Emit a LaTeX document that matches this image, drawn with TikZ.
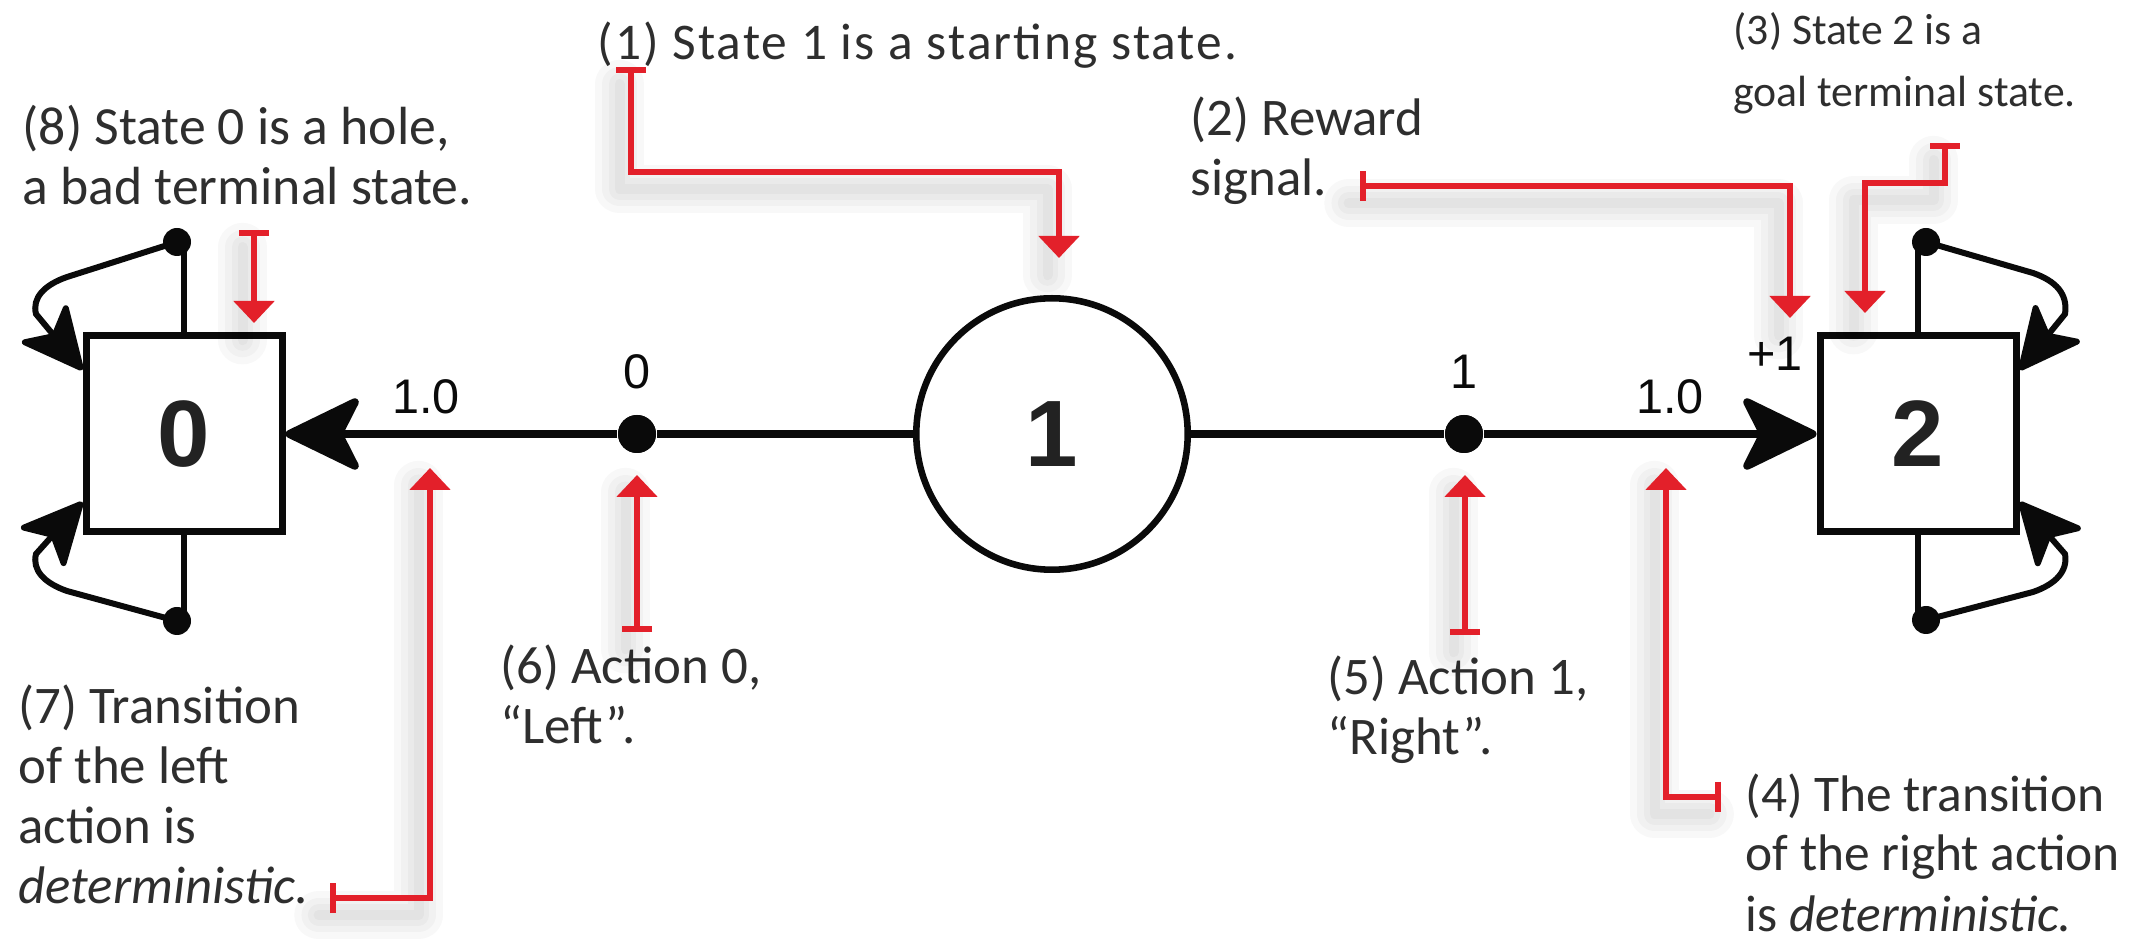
\documentclass[tikz,border=0pt]{standalone}
\usepackage{fontspec}
\setmainfont{Carlito}
\newfontfamily\diagfont{Liberation Sans}
\usetikzlibrary{arrows.meta}
\definecolor{calloutred}{HTML}{E3202A}
\definecolor{notetext}{HTML}{2E2E2E}
\definecolor{ink}{HTML}{0A0A0A}

\begin{document}
\begin{tikzpicture}[x=0.35pt, y=-0.35pt,
  statebox/.style={draw=ink, line width=2.45pt, minimum size=68.6pt, inner sep=0pt,
    font=\diagfont\bfseries\fontsize{33}{36}\selectfont, text=ink!90},
  statecircle/.style={circle, draw=ink, line width=2.3pt, minimum size=95pt, inner sep=0pt,
    font=\diagfont\bfseries\fontsize{33}{36}\selectfont, text=ink!90},
  actiondot/.style={circle, fill=ink, minimum size=13.3pt, inner sep=0pt},
  loopdot/.style={circle, fill=ink, minimum size=9.8pt, inner sep=0pt},
  transition/.style={draw=ink, line width=2.8pt},
  maintip/.style={-{Stealth[length=29pt, width=28pt, inset=7pt, round]}},
  selfloop/.style={draw=ink, line width=2.1pt, -{Stealth[length=24pt, width=23pt, inset=6pt, round]}},
  stub/.style={draw=ink, line width=2.1pt},
  numlabel/.style={inner sep=0pt, font=\diagfont\fontsize{17}{20}\selectfont, text=ink},
  note/.style={anchor=base west, inner sep=0pt, align=left, text=notetext,
    font=\fontsize{18.5}{21}\selectfont},
  shadowpass/.style={draw=black, draw opacity=0.028, line width=#1, -, line cap=round, line join=round,
    transform canvas={xshift=-4pt, yshift=-6pt}},
  callout/.style={draw=calloutred, line width=2.1pt,
    {Bar[width=10.5pt]}-{Triangle[width=14pt, length=7.7pt]},
    preaction={shadowpass=17pt}, preaction={shadowpass=12pt},
    preaction={shadowpass=7.5pt}, preaction={shadowpass=3.5pt}},
]
\useasboundingbox (0,0) rectangle (2143,942);
\fill[white] (0,0) rectangle (2143,942);

% states
\node[statebox] (s0) at (184,434) {0};
\node[statecircle] (s1) at (1052,434) {1};
\node[statebox] (s2) at (1918,434) {2};

% action nodes
\node[actiondot] (a0) at (637,434) {};
\node[actiondot] (a1) at (1464,434) {};

% transitions
\draw[transition] (s1) -- (a0);
\draw[transition, maintip] (a0) -- (s0);
\draw[transition] (s1) -- (a1);
\draw[transition, maintip] (a1) -- (s2);
\node[actiondot] at (a0) {};
\node[actiondot] at (a1) {};

% labels on the transitions
\node[numlabel] (act0) at (637,372) {0};
\node[numlabel] (act1) at (1464,372) {1};
\node[numlabel] (p0) at (426,397) {1.0};
\node[numlabel] (p1) at (1670,397) {1.0};
\node[numlabel] (rw) at (1775,354) {+1};

% self-loops of the terminal states
\node[loopdot] (d0t) at (177,242) {};
\node[loopdot] (d0b) at (177,621) {};
\node[loopdot] (d2t) at (1926,242) {};
\node[loopdot] (d2b) at (1926,620) {};
\draw[stub] (s0.north) -- (s0.north |- d0t);
\draw[stub] (s0.south) -- (s0.south |- d0b);
\draw[stub] (s2.north) -- (s2.north |- d2t);
\draw[stub] (s2.south) -- (s2.south |- d2b);

\draw[selfloop] (d0t.center) -- (67,277) .. controls (44,285) and (32,298) .. (36,314)
  -- ([shift={(0,-64)}]s0.west);
\draw[selfloop] (d0b.center) -- (67,591) .. controls (44,583) and (32,570) .. (36,554)
  -- ([shift={(0,68)}]s0.west);
\draw[selfloop] (d2t.center) -- (2033,273) .. controls (2056,281) and (2068,294) .. (2065,314)
  -- ([shift={(0,-64)}]s2.east);
\draw[selfloop] (d2b.center) -- (2033,592) .. controls (2056,584) and (2068,571) .. (2065,554)
  -- ([shift={(0,68)}]s2.east);

% annotations
\node[note, font=\fontsize{18}{21}\selectfont\addfontfeature{LetterSpace=4}] (n1) at (597,60)
  {(1) State 1 is a starting state.};
\node[note] (n2) at (1190,196) {(2) Reward\\signal.};
\node[note, font=\fontsize{15.3}{22}\selectfont] (n3) at (1733,107) {(3) State 2 is a\\goal terminal state.};
\node[note, font=\fontsize{18}{21}\selectfont] (n4) at (1745,931)
  {(4) The transition\\of the right action\\is \textit{deterministic.}};
\node[note] (n5) at (1327,755) {(5) Action 1,\\“Right”.};
\node[note] (n6) at (500,744) {(6) Action 0,\\“Left”.};
\node[note] (n7) at (18,903) {(7) Transition\\of the left\\action is\\\textit{deterministic.}};
\node[note, font=\fontsize{18.8}{21}\selectfont] (n8) at (22,205) {(8) State 0 is a hole,\\a bad terminal state.};

% callout end points
\coordinate (c1a) at (631,67);   \coordinate (c1b) at (1059,258);
\coordinate (c2a) at (1360,186); \coordinate (c2b) at (1790,318);
\coordinate (c3a) at (1945,143); \coordinate (c3b) at (1865,313);
\coordinate (c4a) at (1721,797); \coordinate (c4b) at (1666,468);
\coordinate (c5a) at (1465,635); \coordinate (c5b) at (1465,475);
\coordinate (c6a) at (637,632);  \coordinate (c6b) at (637,475);
\coordinate (c7a) at (330,898);  \coordinate (c7b) at (430,468);
\coordinate (c8a) at (254,230);  \coordinate (c8b) at (254,323);

% callouts
\draw[callout] (c1a) |- (c1b |- 0,172) -- (c1b);
\draw[callout] (c2a) -| (c2b);
\draw[callout] (c3a) |- (c3b |- 0,183) -- (c3b);
\draw[callout] (c4a) -| (c4b);
\draw[callout] (c5a) -- (c5b);
\draw[callout] (c6a) -- (c6b);
\draw[callout] (c7a) -| (c7b);
\draw[callout] (c8a) -- (c8b);
\end{tikzpicture}
\end{document}
